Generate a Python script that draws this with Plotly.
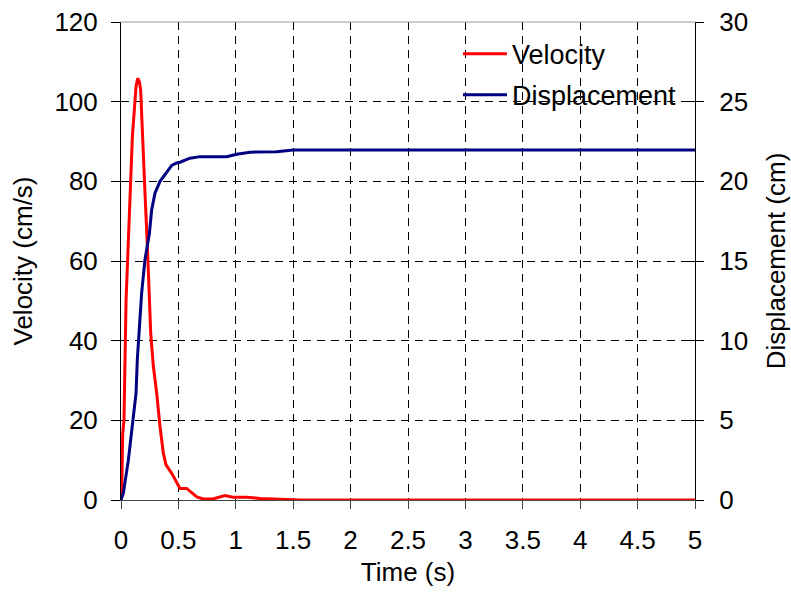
import plotly.graph_objects as go

# Velocity record (time in s, velocity in cm/s)
t_vel = [0, 0.006, 0.015, 0.026, 0.044, 0.064, 0.078, 0.099, 0.116, 0.131, 0.145,
         0.16, 0.171, 0.183, 0.195, 0.209, 0.23, 0.247, 0.259, 0.282, 0.311, 0.34,
         0.369, 0.392, 0.412, 0.442, 0.514, 0.572, 0.66, 0.717, 0.80, 0.906, 0.976,
         1.095, 1.21, 1.385, 1.56, 5.0]
velocity = [0, 1.7, 16.7, 20, 50, 63.6, 75.3, 91.2, 97.9, 103.8, 105.9,
            105, 103, 93.7, 85.4, 77, 63.6, 51.9, 41.8, 33.5, 26.8, 18.4,
            11.7, 8.8, 8.0, 6.7, 2.9, 2.9, 0.8, 0.25, 0.25, 1.1, 0.7,
            0.7, 0.4, 0.2, 0, 0]

# Displacement record (time in s, displacement in cm)
t_disp = [0, 0.02, 0.064, 0.107, 0.131, 0.142, 0.166, 0.18, 0.209, 0.247, 0.267,
          0.296, 0.34, 0.398, 0.442, 0.485, 0.514, 0.601, 0.688, 0.92, 1.008,
          1.124, 1.24, 1.356, 1.5, 5.0]
displacement = [0, 0.42, 2.5, 5.0, 6.7, 8.8, 11.3, 13.0, 15.1, 16.7, 18.2,
                19.25, 20.0, 20.6, 21.0, 21.15, 21.2, 21.45, 21.55, 21.55, 21.7,
                21.83, 21.86, 21.86, 21.97, 21.97]

x_ticks = [0, 0.5, 1, 1.5, 2, 2.5, 3, 3.5, 4, 4.5, 5]
x_tick_text = ["0", "0.5", "1", "1.5", "2", "2.5", "3", "3.5", "4", "4.5", "5"]
vel_ticks = [0, 20, 40, 60, 80, 100, 120]
disp_ticks = [0, 5, 10, 15, 20, 25, 30]

FONT = "Liberation Sans, Arial, sans-serif"
TICK_SIZE = 26
TITLE_SIZE = 26

fig = go.Figure()
fig.add_trace(go.Scatter(x=t_vel, y=velocity, name="Velocity", mode="lines",
                         line=dict(color="#ff0000", width=3), legendgroup="a"))
fig.add_trace(go.Scatter(x=t_disp, y=displacement, name="Displacement", mode="lines",
                         line=dict(color="#000080", width=3), yaxis="y2",
                         legendgroup="b"))

fig.update_layout(
    width=791, height=592,
    margin=dict(l=121, r=96, t=22, b=92, autoexpand=False),
    paper_bgcolor="white", plot_bgcolor="white",
    font=dict(family=FONT, size=TICK_SIZE, color="black"),
    showlegend=True,
    legend=dict(x=0.587, y=0.984, xanchor="left", yanchor="top",
                bgcolor="rgba(0,0,0,0)", font=dict(size=27),
                itemwidth=44,
                traceorder="grouped", tracegroupgap=3),
    xaxis=dict(range=[0, 5], tickvals=x_ticks, ticktext=x_tick_text,
               tickfont=dict(size=TICK_SIZE), automargin=False,
               showline=True, linecolor="#444", linewidth=1,
               ticks="outside", ticklen=8, tickcolor="#444",
               ticklabelstandoff=9,
               showgrid=True, gridcolor="black", gridwidth=1, griddash="8px,6px",
               zeroline=False,
               title=dict(text="Time (s)", standoff=8,
                          font=dict(size=TITLE_SIZE))),
    yaxis=dict(range=[0, 120], tickvals=vel_ticks,
               tickfont=dict(size=TICK_SIZE), automargin=False,
               showline=True, linecolor="black", linewidth=1,
               ticks="outside", ticklen=9, tickcolor="black",
               ticklabelstandoff=8,
               showgrid=True, gridcolor="black", gridwidth=1, griddash="8px,6px",
               zeroline=False,
               title=dict(text="Velocity (cm/s)", standoff=14,
                          font=dict(size=TITLE_SIZE))),
    yaxis2=dict(range=[0, 30], tickvals=disp_ticks, overlaying="y", side="right",
                tickfont=dict(size=TICK_SIZE), automargin=False,
                showline=True, linecolor="black", linewidth=1,
                ticks="outside", ticklen=8, tickcolor="black",
                ticklabelstandoff=10,
                showgrid=False, zeroline=False,
                title=dict(text="Displacement (cm)", standoff=19,
                           font=dict(size=TITLE_SIZE))),
    yaxis3=dict(range=[0, 30], tickvals=disp_ticks, overlaying="y", side="right",
                ticks="inside", ticklen=7, tickcolor="black", automargin=False,
                showticklabels=False, showgrid=False, zeroline=False,
                showline=False),
)

# inward half of the crossing ticks on the right axis
fig.add_trace(go.Scatter(x=[None], y=[None], yaxis="y3", showlegend=False,
                         hoverinfo="skip"))

# light top border of the plot frame
fig.add_shape(type="line", xref="paper", yref="paper", x0=0, x1=1, y0=1, y1=1,
              line=dict(color="#999999", width=1))

fig.write_html("out.html")
